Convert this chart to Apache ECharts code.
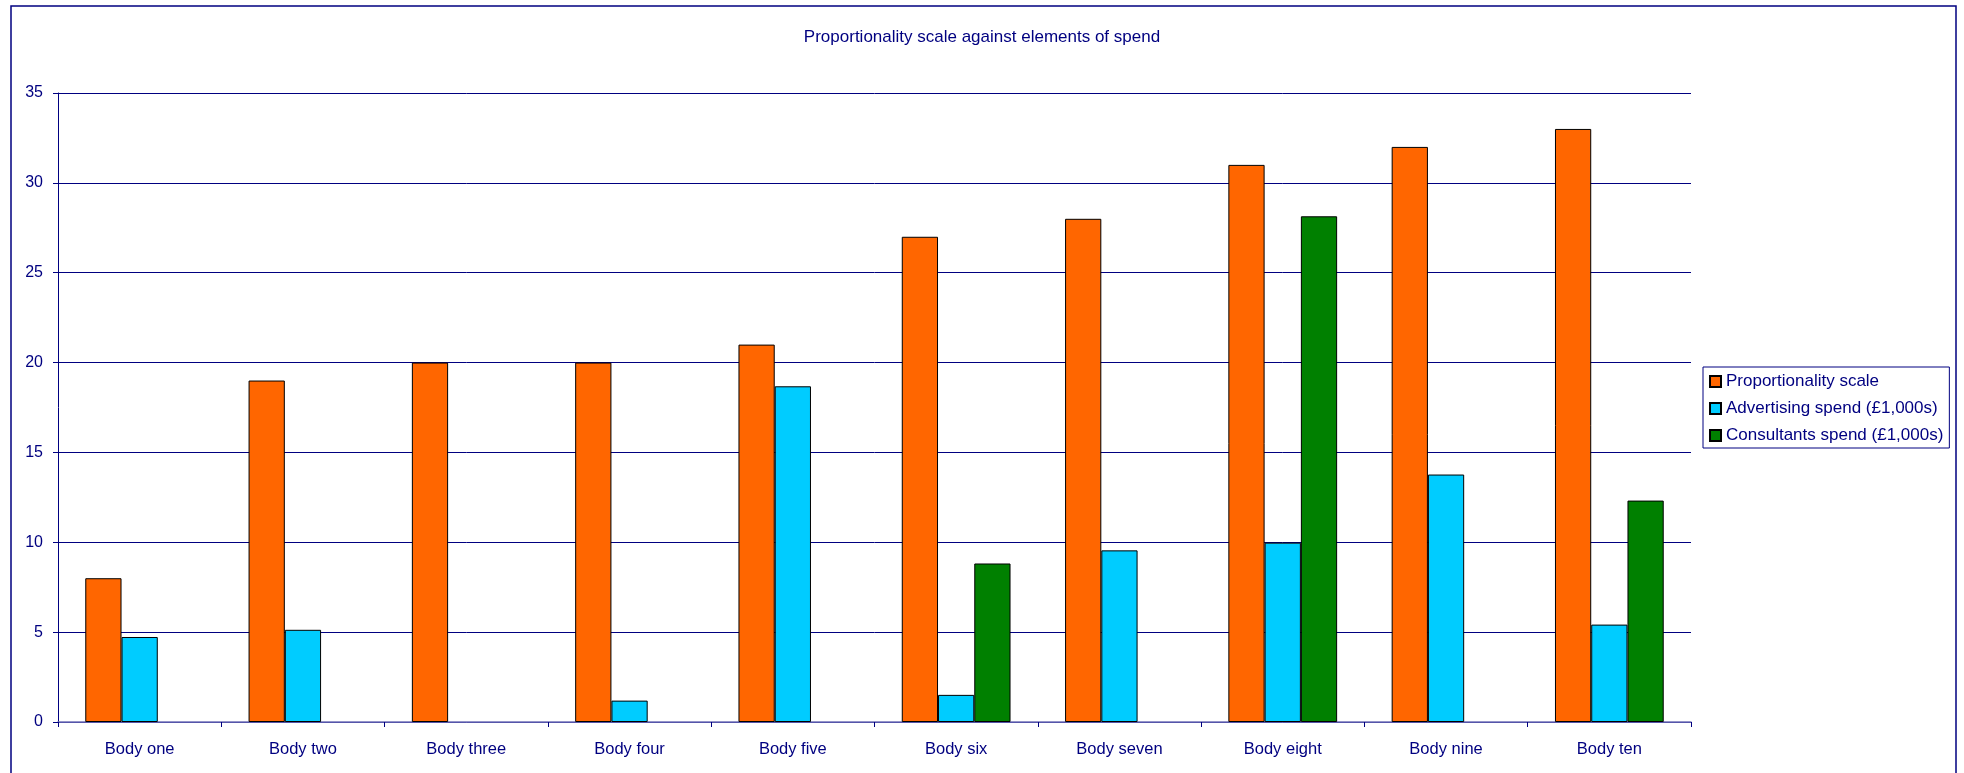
<!DOCTYPE html>
<html>
<head>
<meta charset="utf-8">
<title>Proportionality scale against elements of spend</title>
<script src="https://cdn.jsdelivr.net/npm/echarts@6/dist/echarts.min.js"></script>
<style>
  html, body { margin: 0; padding: 0; background: #fff; }
  #chart { width: 1964px; height: 773px; }
</style>
</head>
<body>
<div id="chart"></div>
<script>
// 数据
var categories = ["Body one", "Body two", "Body three", "Body four", "Body five",
  "Body six", "Body seven", "Body eight", "Body nine", "Body ten"];
var proportionality = [8, 19, 20, 20, 21, 27, 28, 31, 32, 33];
var advertising = [4.73, 5.13, null, 1.19, 18.68, 1.51, 9.55, 9.98, 13.77, 5.42];
var consultants = [null, null, null, null, null, 8.82, null, 28.14, null, 12.32];
var seriesNames = ["Proportionality scale", "Advertising spend (£1,000s)", "Consultants spend (£1,000s)"];

var navy = "#000080";
var font = "Liberation Sans, Arial, sans-serif";

var chart = echarts.init(document.getElementById("chart"));

function barSeries(name, data, color) {
  return {
    name: name,
    type: "bar",
    data: data,
    barGap: "0%",
    barCategoryGap: "33.4%",
    itemStyle: {
      color: color,
      borderColor: "#000",
      borderWidth: 1
    }
  };
}

var option = {
  animation: false,
  backgroundColor: "#fff",
  title: {
    text: "Proportionality scale against elements of spend",
    left: "center",
    top: 29,
    padding: 0,
    textStyle: {
      color: navy,
      fontFamily: font,
      fontWeight: "normal",
      fontSize: 17
    }
  },
  legend: {
    orient: "vertical",
    left: 1703,
    top: 367,
    padding: [6, 6, 4, 6],
    itemWidth: 11,
    itemHeight: 11,
    itemGap: 10,
    borderColor: navy,
    borderWidth: 1,
    icon: "rect",
    textStyle: {
      color: navy,
      fontFamily: font,
      fontSize: 17,
      lineHeight: 17
    },
    data: seriesNames
  },
  grid: {
    left: 58,
    top: 93,
    width: 1633,
    height: 629
  },
  xAxis: {
    type: "category",
    data: categories,
    axisLine: { lineStyle: { color: "#7272b8", width: 1.5 } },
    axisTick: { show: true, length: 5, inside: false, lineStyle: { color: navy } },
    axisLabel: {
      color: navy,
      fontFamily: font,
      fontSize: 16.5,
      margin: 19
    }
  },
  yAxis: {
    type: "value",
    min: 0,
    max: 35,
    interval: 5,
    axisLine: { show: true, lineStyle: { color: navy, width: 1 } },
    axisTick: { show: true, length: 5, lineStyle: { color: navy } },
    axisLabel: {
      color: navy,
      fontFamily: font,
      fontSize: 16,
      margin: 15
    },
    splitLine: { show: true, lineStyle: { color: navy, width: 1 } }
  },
  // 外框
  graphic: [{
    type: "rect",
    shape: { x: 11, y: 6, width: 1945, height: 820 },
    style: { fill: null, stroke: navy, lineWidth: 1.5 },
    silent: true,
    z: -1
  }],
  series: [
    barSeries(seriesNames[0], proportionality, "#FF6600"),
    barSeries(seriesNames[1], advertising, "#00CCFF"),
    barSeries(seriesNames[2], consultants, "#008000")
  ]
};

chart.setOption(option);
</script>
</body>
</html>
